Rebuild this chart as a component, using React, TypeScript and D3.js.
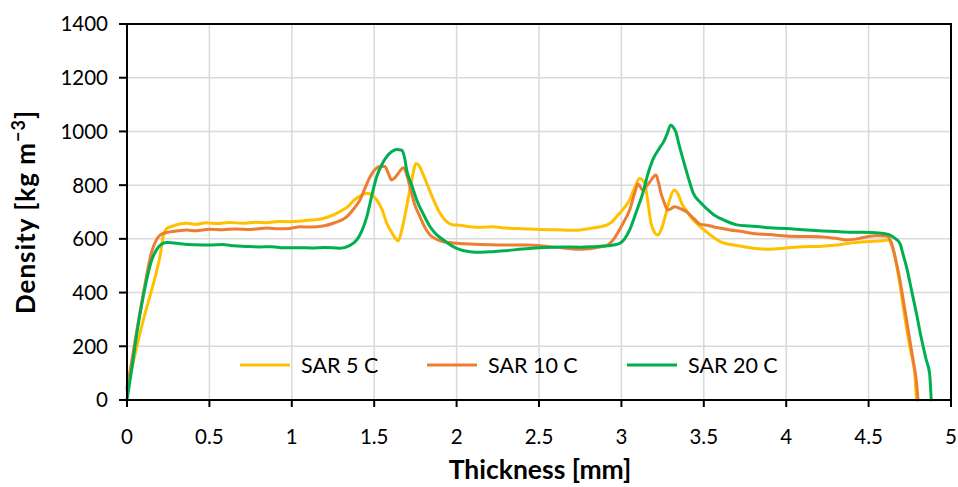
import React from "react";
import * as d3 from "d3";

const xTicks = [0, 0.5, 1, 1.5, 2, 2.5, 3, 3.5, 4, 4.5, 5];
const yTicks = [0, 200, 400, 600, 800, 1000, 1200, 1400];
const seriesNames = ["SAR 5 C", "SAR 10 C", "SAR 20 C"];
const seriesColors = ["#FFC000", "#ED7D31", "#00B050"];

const sar5: [number, number][] = [
  [0, 50], [0.03, 120], [0.06, 200], [0.1, 300], [0.15, 410], [0.18, 480], [0.2, 534], [0.22, 610], [0.24, 638],
  [0.28, 648], [0.32, 655], [0.36, 658], [0.42, 654], [0.48, 660], [0.55, 657], [0.62, 661], [0.7, 658], [0.78, 662],
  [0.85, 660], [0.92, 665], [0.99, 664], [1.05, 666], [1.12, 670], [1.19, 676], [1.24, 686], [1.29, 701], [1.34, 720],
  [1.38, 745], [1.42, 762], [1.455, 770], [1.49, 762], [1.515, 745], [1.55, 705], [1.576, 658], [1.61, 620], [1.646, 593],
  [1.67, 640], [1.697, 720], [1.725, 810], [1.754, 881], [1.775, 870], [1.798, 838], [1.83, 790], [1.86, 745], [1.895, 700],
  [1.93, 670], [1.98, 652], [2.02, 651], [2.08, 645], [2.15, 643], [2.22, 645], [2.3, 640], [2.4, 638], [2.5, 635],
  [2.6, 634], [2.73, 632], [2.8, 638], [2.87, 645], [2.91, 651], [2.94, 662], [2.97, 682], [3.01, 710], [3.05, 745],
  [3.08, 790], [3.11, 825], [3.14, 810], [3.16, 740], [3.18, 658], [3.2, 625], [3.22, 614], [3.245, 640], [3.265, 682],
  [3.29, 740], [3.32, 782], [3.345, 765], [3.366, 732], [3.4, 700], [3.436, 670], [3.48, 645], [3.518, 625], [3.56, 605],
  [3.6, 590], [3.7, 575], [3.8, 565], [3.9, 561], [4.0, 566], [4.1, 571], [4.2, 572], [4.31, 577], [4.41, 586],
  [4.5, 590], [4.59, 593], [4.62, 596], [4.64, 575], [4.66, 534], [4.69, 430], [4.71, 347], [4.73, 270], [4.75, 199],
  [4.77, 140], [4.78, 99], [4.79, 0],
];

const sar10: [number, number][] = [
  [0, 40], [0.03, 150], [0.06, 260], [0.1, 400], [0.15, 552], [0.18, 598], [0.21, 618], [0.26, 626], [0.31, 630],
  [0.36, 633], [0.42, 630], [0.5, 636], [0.58, 634], [0.66, 637], [0.75, 635], [0.85, 640], [0.92, 638], [0.99, 639],
  [1.05, 645], [1.12, 644], [1.19, 648], [1.26, 660], [1.333, 682], [1.38, 715], [1.414, 745], [1.445, 790], [1.475, 831],
  [1.505, 858], [1.535, 869], [1.565, 869], [1.585, 845], [1.606, 819], [1.626, 828], [1.646, 844], [1.677, 865],
  [1.697, 840], [1.717, 794], [1.745, 730], [1.778, 682], [1.81, 640], [1.839, 614], [1.88, 598], [1.92, 589], [2.0, 584],
  [2.08, 581], [2.2, 578], [2.3, 577], [2.43, 577], [2.55, 572], [2.65, 566], [2.73, 561], [2.8, 563], [2.87, 570],
  [2.91, 575], [2.95, 596], [2.98, 625], [3.01, 658], [3.05, 707], [3.08, 770], [3.1, 804], [3.13, 782], [3.15, 795],
  [3.17, 810], [3.21, 838], [3.225, 810], [3.24, 770], [3.26, 735], [3.28, 707], [3.3, 712], [3.325, 720], [3.36, 712],
  [3.396, 701], [3.44, 675], [3.477, 655], [3.53, 650], [3.578, 642], [3.62, 638], [3.66, 633], [3.72, 628], [3.8, 620],
  [3.9, 616], [4.0, 611], [4.1, 609], [4.205, 608], [4.3, 602], [4.37, 596], [4.43, 600], [4.49, 608], [4.55, 612],
  [4.61, 611], [4.64, 583], [4.665, 520], [4.69, 447], [4.715, 355], [4.74, 261], [4.77, 149], [4.79, 70], [4.8, 0],
];

const sar20: [number, number][] = [
  [0, 0], [0.03, 120], [0.06, 250], [0.1, 390], [0.15, 521], [0.18, 560], [0.196, 573], [0.24, 586], [0.3, 584],
  [0.35, 580], [0.42, 578], [0.5, 577], [0.58, 579], [0.65, 574], [0.72, 572], [0.8, 570], [0.88, 571], [0.95, 567],
  [1.05, 567], [1.12, 566], [1.2, 568], [1.29, 565], [1.35, 575], [1.394, 596], [1.425, 630], [1.455, 682], [1.485, 760],
  [1.515, 831], [1.545, 875], [1.576, 906], [1.607, 925], [1.637, 933], [1.667, 930], [1.685, 900], [1.697, 856],
  [1.728, 800], [1.758, 745], [1.8, 690], [1.839, 645], [1.88, 615], [1.92, 596], [1.96, 578], [2.0, 565], [2.08, 552],
  [2.15, 550], [2.22, 552], [2.3, 556], [2.4, 562], [2.53, 568], [2.65, 570], [2.75, 569], [2.83, 571], [2.92, 574],
  [2.99, 583], [3.05, 633], [3.09, 700], [3.13, 770], [3.16, 840], [3.19, 894], [3.23, 937], [3.255, 960], [3.275, 987],
  [3.3, 1024], [3.315, 1015], [3.33, 999], [3.35, 950], [3.375, 894], [3.405, 830], [3.436, 770], [3.48, 735],
  [3.518, 712], [3.56, 690], [3.6, 676], [3.66, 660], [3.7, 652], [3.78, 648], [3.84, 645], [3.9, 641], [4.0, 639],
  [4.1, 634], [4.2, 630], [4.31, 627], [4.4, 625], [4.52, 624], [4.6, 619], [4.63, 614], [4.66, 602], [4.69, 583],
  [4.71, 540], [4.73, 496], [4.76, 410], [4.79, 323], [4.82, 230], [4.85, 149], [4.87, 99], [4.88, 0],
];

const allSeries = [sar5, sar10, sar20];

const W = 958;
const H = 487;
const FONT = "Lato, 'Open Sans', sans-serif";

export default function App() {
  const x = d3.scaleLinear().domain([0, 5]).range([127, 951]);
  const y = d3.scaleLinear().domain([0, 1400]).range([400, 24]);
  const line = d3
    .line<[number, number]>()
    .x((d) => x(d[0]))
    .y((d) => y(d[1]))
    .curve(d3.curveMonotoneX);

  const legendX = [240, 427, 627];
  const legendY = 365;

  return (
    <svg
      width={W}
      height={H}
      style={{ position: "absolute", left: 0, top: 0, background: "#fff" }}
      fontFamily={FONT}
    >
      <rect x={0} y={0} width={W} height={H} fill="#fff" />
      {/* grid */}
      {yTicks.slice(1, -1).map((t) => (
        <line key={"gy" + t} x1={x(0)} x2={x(5)} y1={y(t)} y2={y(t)} stroke="#d9d9d9" strokeWidth={1.5} />
      ))}
      {xTicks.slice(1, -1).map((t) => (
        <line key={"gx" + t} x1={x(t)} x2={x(t)} y1={y(0)} y2={y(1400)} stroke="#d9d9d9" strokeWidth={1.5} />
      ))}
      {/* series */}
      {allSeries.map((s, i) => (
        <path
          key={"s" + i}
          d={line(s) || ""}
          fill="none"
          stroke={seriesColors[i]}
          strokeWidth={3}
          strokeLinejoin="round"
          strokeLinecap="round"
        />
      ))}
      {/* frame */}
      <rect
        x={x(0)}
        y={y(1400)}
        width={x(5) - x(0)}
        height={y(0) - y(1400)}
        fill="none"
        stroke="#000"
        strokeWidth={2}
      />
      {/* y ticks */}
      {yTicks.map((t) => (
        <g key={"yt" + t}>
          <line x1={x(0) - 8} x2={x(0)} y1={y(t)} y2={y(t)} stroke="#000" strokeWidth={2} />
          <text x={108} y={y(t)} dy="0.36em" textAnchor="end" fontSize={20.5} fill="#000">
            {t}
          </text>
        </g>
      ))}
      {/* x ticks */}
      {xTicks.map((t) => (
        <g key={"xt" + t}>
          <line x1={x(t)} x2={x(t)} y1={y(0)} y2={y(0) + 7} stroke="#000" strokeWidth={2} />
          <text x={x(t)} y={444} textAnchor="middle" fontSize={20.5} fill="#000">
            {t}
          </text>
        </g>
      ))}
      {/* axis titles */}
      <text x={540} y={479} textAnchor="middle" fontSize={26.5} fontWeight="bold" fill="#000">
        Thickness [mm]
      </text>
      <text
        transform={`translate(35, ${(y(0) + y(1400)) / 2}) rotate(-90)`}
        textAnchor="middle"
        fontSize={26}
        fontWeight="bold"
        fill="#000"
        letterSpacing={1}
      >
        Density [kg m
        <tspan fontSize={18} dy={-10}>
          −3
        </tspan>
        <tspan dy={10}>]</tspan>
      </text>
      {/* legend */}
      {seriesNames.map((n, i) => (
        <g key={"lg" + i}>
          <line
            x1={legendX[i]}
            x2={legendX[i] + 50}
            y1={legendY}
            y2={legendY}
            stroke={seriesColors[i]}
            strokeWidth={3}
          />
          <text x={legendX[i] + 61} y={legendY} dy="0.36em" fontSize={21.5} fill="#000">
            {n}
          </text>
        </g>
      ))}
    </svg>
  );
}
